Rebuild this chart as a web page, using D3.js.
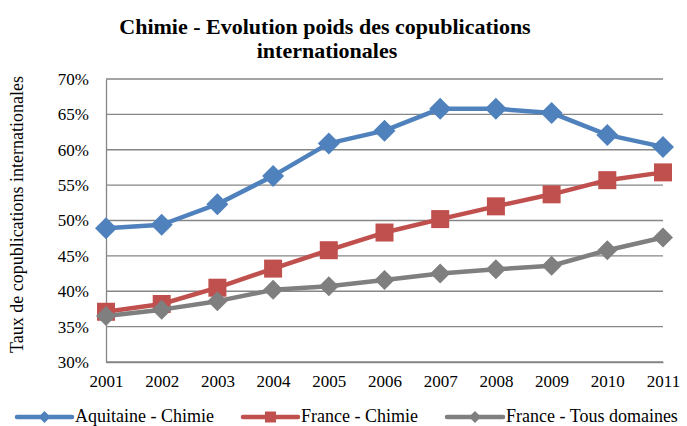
<!DOCTYPE html>
<html>
<head>
<meta charset="utf-8">
<script src="https://cdn.jsdelivr.net/npm/d3@7"></script>
<style>
  html, body { margin: 0; padding: 0; background: #fff; }
  svg { display: block; }
</style>
</head>
<body>
<svg id="chart" width="687" height="426" font-family="Liberation Serif, Times New Roman, serif"></svg>
<script>
// Years on the x axis
const years = ["2001","2002","2003","2004","2005","2006","2007","2008","2009","2010","2011"];

// Share of international co-publications (%)
const aquitaineChimie = [48.9, 49.4, 52.3, 56.3, 60.9, 62.7, 65.8, 65.8, 65.2, 62.1, 60.4];
const franceChimie    = [37.1, 38.2, 40.5, 43.2, 45.8, 48.3, 50.2, 52.0, 53.7, 55.7, 56.8];
const franceTous      = [36.5, 37.4, 38.6, 40.2, 40.7, 41.6, 42.5, 43.1, 43.6, 45.8, 47.6];

const seriesNames = ["Aquitaine - Chimie", "France - Chimie", "France - Tous domaines"];
const yTicks = [30, 35, 40, 45, 50, 55, 60, 65, 70];

const FONT = "Liberation Serif, Times New Roman, serif";

const series = [
  { name: seriesNames[0], values: aquitaineChimie, color: "#4F81BD", marker: "diamond", size: 11 },
  { name: seriesNames[1], values: franceChimie,    color: "#C0504D", marker: "square",  size: 9 },
  { name: seriesNames[2], values: franceTous,      color: "#7F7F7F", marker: "diamond", size: 10 }
];

const svg = d3.select("#chart");
const margin = { left: 106, right: 24, top: 79, bottom: 64 };
const W = 687, H = 426;

const x = d3.scalePoint().domain(years).range([margin.left, W - margin.right]);
const y = d3.scaleLinear().domain([30, 70]).range([H - margin.bottom, margin.top]);

// Title
const title = svg.append("text")
  .attr("text-anchor", "middle")
  .attr("font-family", FONT)
  .attr("font-weight", "bold")
  .attr("font-size", 22)
  .attr("fill", "#000");
title.append("tspan").attr("x", 325).attr("y", 34).text("Chimie - Evolution poids des copublications");
title.append("tspan").attr("x", 327).attr("y", 58).text("internationales");

// Horizontal gridlines
svg.append("g")
  .selectAll("line")
  .data(yTicks)
  .join("line")
  .attr("x1", margin.left).attr("x2", W - margin.right)
  .attr("y1", d => y(d)).attr("y2", d => y(d))
  .attr("stroke", "#868686").attr("stroke-width", 1.3);

// Y axis
const yAxis = svg.append("g")
  .attr("transform", `translate(${margin.left},0)`)
  .call(d3.axisLeft(y).tickValues(yTicks).tickSize(0).tickPadding(17).tickFormat(d => d + "%"));
yAxis.attr("font-family", FONT);
yAxis.select(".domain").attr("stroke", "#868686").attr("stroke-width", 1.3);
yAxis.selectAll("text").attr("font-size", 17).attr("fill", "#000");

// X axis
const xAxis = svg.append("g")
  .attr("transform", `translate(0,${H - margin.bottom})`)
  .call(d3.axisBottom(x).tickSize(0).tickPadding(13));
xAxis.attr("font-family", FONT);
xAxis.select(".domain").attr("stroke", "#868686").attr("stroke-width", 1.3);
xAxis.selectAll("text").attr("font-size", 17).attr("fill", "#000");

// Y axis title
svg.append("text")
  .attr("transform", `translate(23,${(margin.top + H - margin.bottom) / 2 - 6}) rotate(-90)`)
  .attr("text-anchor", "middle")
  .attr("font-family", FONT)
  .attr("font-size", 18)
  .attr("fill", "#000")
  .text("Taux de copublications internationales");

function markerPath(type, s) {
  if (type === "square") return `M${-s},${-s}H${s}V${s}H${-s}Z`;
  return `M0,${-s}L${s},0L0,${s}L${-s},0Z`;
}

const line = d3.line().x((d, i) => x(years[i])).y(d => y(d));

// Lines and markers
series.forEach(s => {
  const g = svg.append("g");
  g.append("path")
    .attr("d", line(s.values))
    .attr("fill", "none")
    .attr("stroke", s.color)
    .attr("stroke-width", 4.5)
    .attr("stroke-linejoin", "round");
  g.selectAll("path.mk")
    .data(s.values)
    .join("path")
    .attr("class", "mk")
    .attr("transform", (d, i) => `translate(${x(years[i])},${y(d)})`)
    .attr("d", markerPath(s.marker, s.size))
    .attr("fill", s.color);
});

// Legend
const legendItems = [
  { x0: 17, x1: 72, tx: 75 },
  { x0: 243, x1: 298, tx: 301 },
  { x0: 447, x1: 503, tx: 506 }
];
const ly = 417;
series.forEach((s, i) => {
  const li = legendItems[i];
  const g = svg.append("g");
  g.append("line")
    .attr("x1", li.x0).attr("x2", li.x1).attr("y1", ly).attr("y2", ly)
    .attr("stroke", s.color).attr("stroke-width", 4.5).attr("stroke-linecap", "round");
  g.append("path")
    .attr("transform", `translate(${(li.x0 + li.x1) / 2},${ly})`)
    .attr("d", markerPath(s.marker, s.marker === "square" ? 5.5 : 6))
    .attr("fill", s.color);
  g.append("text")
    .attr("x", li.tx).attr("y", ly + 5)
    .attr("font-family", FONT)
    .attr("font-size", 18).attr("fill", "#000")
    .text(s.name);
});
</script>
</body>
</html>
